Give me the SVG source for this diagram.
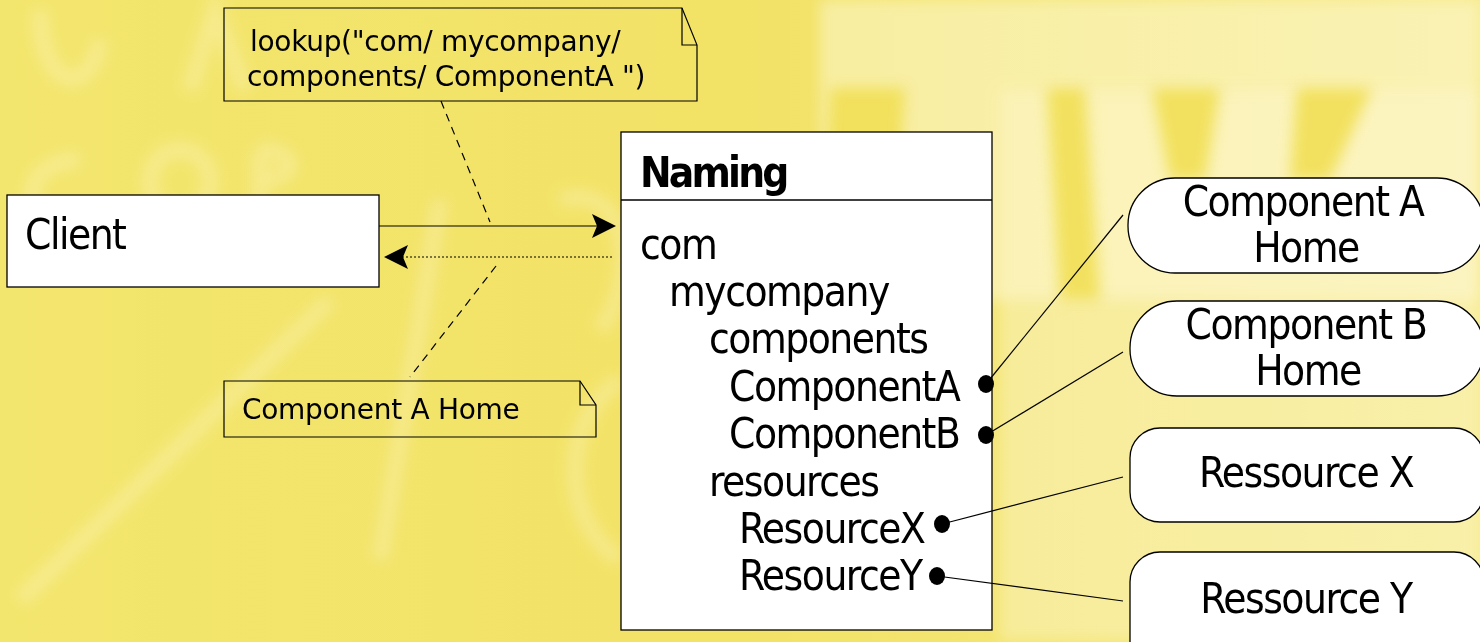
<svg xmlns="http://www.w3.org/2000/svg" width="1480" height="642" viewBox="0 0 1480 642">
  <style>
    .t { font-family: "DejaVu Sans Condensed", "DejaVu Sans", sans-serif; fill: #000; }
    .big { font-size: 42px; letter-spacing: -1.5px; }
    .title { font-weight: bold; letter-spacing: -2.8px; }
    .note { font-family: "DejaVu Sans", sans-serif; font-size: 28px; letter-spacing: -0.3px; }
    .box { fill: #fff; stroke: #000; stroke-width: 1.3; }
    .notebox { fill: none; stroke: #000; stroke-width: 1.2; }
    .link { stroke: #000; stroke-width: 1.2; fill: none; }
    .dash { stroke: #000; stroke-width: 1.2; stroke-dasharray: 8 6; fill: none; }
    .dot { fill: #000; }
  </style>
  <defs>
    <marker id="arrow" viewBox="0 0 24 24" refX="22" refY="12" markerWidth="24" markerHeight="24" markerUnits="userSpaceOnUse" orient="auto">
      <path d="M0,0 L24,12 L0,24 L5,12 Z" fill="#000"/>
    </marker>
    <filter id="soft" x="-20%" y="-20%" width="140%" height="140%">
      <feGaussianBlur stdDeviation="7"/>
    </filter>
    <linearGradient id="bg" x1="0" y1="0" x2="1" y2="0">
      <stop offset="0" stop-color="#f3e66e"/>
      <stop offset="0.5" stop-color="#f2e266"/>
      <stop offset="1" stop-color="#f6ea8a"/>
    </linearGradient>
  </defs>

  <!-- background texture -->
  <g id="background">
    <rect width="1480" height="642" fill="url(#bg)"/>
    <g filter="url(#soft)" fill="#fffbe6" opacity="0.75">
      <!-- pale right-hand panel above the bubbles -->
      <path d="M820,0 L1480,0 L1480,300 L820,300 Z" opacity="0.6"/>
      <path d="M1000,90 L1480,90 L1480,640 L1000,640 Z" opacity="0.45"/>
    </g>
    <g filter="url(#soft)" fill="#f1df55" opacity="0.9">
      <path d="M830,88 L905,88 L890,300 L822,300 Z"/>
      <path d="M1047,88 L1085,88 L1100,300 L1060,300 Z"/>
      <path d="M1152,88 L1220,88 L1205,180 L1170,180 Z"/>
      <path d="M1297,88 L1372,88 L1330,180 L1290,180 Z"/>
      <path d="M1200,590 L1480,590 L1480,642 L1200,642 Z" opacity="0.6"/>
    </g>
    <g filter="url(#soft)" fill="none" stroke="#fff8d8" stroke-width="16" opacity="0.3">
      <path d="M40,10 C40,90 90,100 100,40"/>
      <path d="M190,90 L215,10 L245,90"/>
      <path d="M80,160 C20,160 20,220 60,220"/>
      <path d="M180,150 C140,150 140,215 180,215 C220,215 220,150 180,150"/>
      <path d="M260,150 L260,215 M260,150 C300,150 300,180 260,180"/>
      <path d="M20,600 L330,300"/>
      <path d="M380,560 L440,200"/>
      <path d="M620,560 C560,520 560,420 620,380"/>
      <path d="M560,200 C630,180 640,280 600,330"/>
    </g>
  </g>

  <g id="note-lookup">
    <path class="notebox" d="M224,8 L682,8 L697,45 L697,101 L224,101 Z"/>
    <path class="notebox" d="M682,8 L682,45 L697,45"/>
    <text class="t note" x="250" y="51">lookup("com/ mycompany/</text>
    <text class="t note" x="247" y="86">components/ ComponentA ")</text>
  </g>

  <g id="note-home">
    <path class="notebox" d="M224,381 L580,381 L596,405 L596,437 L224,437 Z"/>
    <path class="notebox" d="M580,381 L580,405 L596,405"/>
    <text class="t note" x="242" y="419">Component A Home</text>
  </g>

  <g id="client">
    <rect class="box" x="7" y="195" width="372" height="92"/>
    <text class="t big" x="25" y="249">Client</text>
  </g>

  <g id="naming">
    <rect class="box" x="621" y="132" width="371" height="498"/>
    <line x1="621" y1="200" x2="992" y2="200" stroke="#000" stroke-width="1.3"/>
    <text class="t big title" x="640" y="187">Naming</text>
    <text class="t big" x="640" y="259">com</text>
    <text class="t big" x="669" y="306">mycompany</text>
    <text class="t big" x="709" y="353">components</text>
    <text class="t big" x="729" y="401">ComponentA</text>
    <text class="t big" x="729" y="448">ComponentB</text>
    <text class="t big" x="709" y="496">resources</text>
    <text class="t big" x="739" y="543">ResourceX</text>
    <text class="t big" x="739" y="590">ResourceY</text>
  </g>

  <g id="component-a-home">
    <rect class="box" x="1128" y="178" width="356" height="95" rx="47" ry="47"/>
    <text class="t big" x="1303" y="216" text-anchor="middle">Component A</text>
    <text class="t big" x="1306" y="262" text-anchor="middle">Home</text>
  </g>

  <g id="component-b-home">
    <rect class="box" x="1130" y="301" width="354" height="95" rx="47" ry="47"/>
    <text class="t big" x="1306" y="339" text-anchor="middle">Component B</text>
    <text class="t big" x="1308" y="385" text-anchor="middle">Home</text>
  </g>

  <g id="ressource-x">
    <rect class="box" x="1130" y="428" width="354" height="94" rx="30" ry="30"/>
    <text class="t big" x="1306" y="487" text-anchor="middle">Ressource X</text>
  </g>

  <g id="ressource-y">
    <rect class="box" x="1130" y="552" width="354" height="120" rx="30" ry="30"/>
    <text class="t big" x="1306" y="613" text-anchor="middle">Ressource Y</text>
  </g>

  <!-- connectors drawn last so they sit above the boxes -->
  <g id="connectors">
    <path class="dash" d="M441,101 L490,222"/>
    <path class="dash" d="M496,266 L410,377"/>
    <path class="link" d="M379,226 L614,226" marker-end="url(#arrow)"/>
    <path class="link" d="M612,257 L386,257" stroke-dasharray="2 2" marker-end="url(#arrow)"/>
    <path class="link" d="M986,384 L1123,215"/>
    <path class="link" d="M986,435 L1123,352"/>
    <path class="link" d="M942,524 L1123,477"/>
    <path class="link" d="M937,576 L1123,601"/>
    <ellipse class="dot" cx="986" cy="384" rx="8" ry="9"/>
    <ellipse class="dot" cx="986" cy="435" rx="8" ry="9"/>
    <ellipse class="dot" cx="942" cy="524" rx="8" ry="9"/>
    <ellipse class="dot" cx="937" cy="576" rx="8" ry="9"/>
  </g>
</svg>
